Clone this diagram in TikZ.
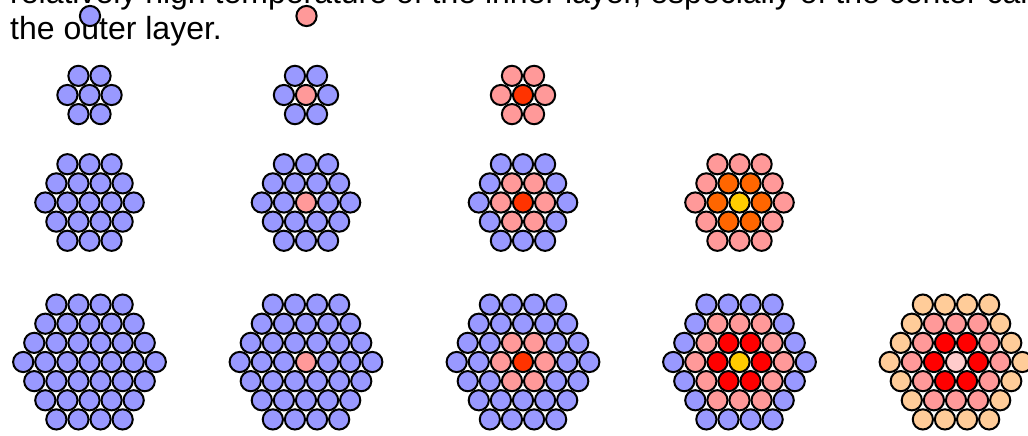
\documentclass[tikz,border=0pt]{standalone}
\usepackage{fontspec}
\setmainfont{Liberation Sans}
\definecolor{cblue}{HTML}{9999FF}
\definecolor{cpink}{HTML}{FF9999}
\definecolor{cred}{HTML}{FF3300}
\definecolor{corange}{HTML}{FF6600}
\definecolor{cyellow}{HTML}{FFCC00}
\definecolor{cpure}{HTML}{FF0000}
\definecolor{cpeach}{HTML}{FFCC99}
\definecolor{clight}{HTML}{FFCCCC}
\tikzset{
  ball/.style={circle, draw=black, line width=2pt, minimum size=20.2pt, inner sep=0pt},
  caption/.style={anchor=base west, inner sep=0pt, font=\fontsize{32}{36.8}\selectfont}
}
\newcommand{\hexcluster}[5]{%
  \foreach \kk/\col in {#5} {%
    \foreach \qq in {-#4,...,#4} {%
      \foreach \rr in {-#4,...,#4} {%
        \pgfmathtruncatemacro{\ring}{max(abs(\qq),abs(\rr),abs(\qq+\rr))}%
        \ifnum\ring=\kk\relax
          \node[ball, fill=\col] (#1-\qq-\rr) at ({#2+22.1*(\qq+\rr/2)},{#3+22.1*0.8660254*\rr}) {};
        \fi
      }%
    }%
  }%
}
\begin{document}
\begin{tikzpicture}[x=1pt,y=-1pt]
\useasboundingbox (0,0) rectangle (1028,436);
\node[caption] (line1) at (10,3.5) {relatively high temperature of the inner layer, especially of the center cal};
\node[caption] (line2) at (10,40) {the outer layer.};
\node[ball, fill=cblue] (keyblue) at (90,16) {};
\node[ball, fill=cpink] (keypink) at (306.5,16) {};
% row 1
\hexcluster{a1}{89.5}{95}{1}{0/cblue,1/cblue}
\hexcluster{a2}{306}{95}{1}{0/cpink,1/cblue}
\hexcluster{a3}{523}{95}{1}{0/cred,1/cpink}
% row 2
\hexcluster{b1}{89.5}{202.5}{2}{0/cblue,1/cblue,2/cblue}
\hexcluster{b2}{306}{202.5}{2}{0/cpink,1/cblue,2/cblue}
\hexcluster{b3}{523}{202.5}{2}{0/cred,1/cpink,2/cblue}
\hexcluster{b4}{739.5}{202.5}{2}{0/cyellow,1/corange,2/cpink}
% row 3
\hexcluster{c1}{89.5}{362}{3}{0/cblue,1/cblue,2/cblue,3/cblue}
\hexcluster{c2}{306}{362}{3}{0/cpink,1/cblue,2/cblue,3/cblue}
\hexcluster{c3}{523}{362}{3}{0/cred,1/cpink,2/cblue,3/cblue}
\hexcluster{c4}{739.5}{362}{3}{0/cyellow,1/cpure,2/cpink,3/cblue}
\hexcluster{c5}{956}{362}{3}{0/clight,1/cpure,2/cpink,3/cpeach}
\end{tikzpicture}
\end{document}
